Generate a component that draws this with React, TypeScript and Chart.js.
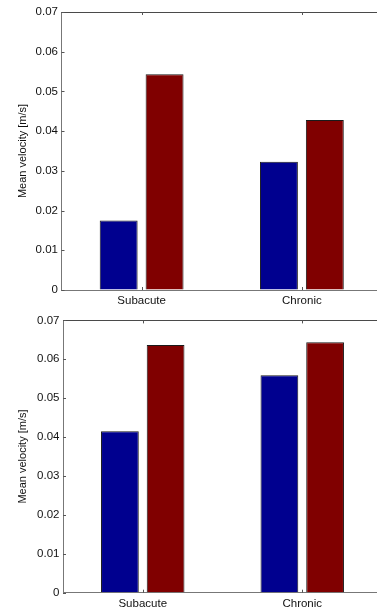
import React, { useEffect, useRef } from "react";
import { Chart, registerables } from "chart.js";

Chart.register(...registerables);

const categories = ["Subacute", "Chronic"];
const topBlue = [0.0175, 0.0323];
const topRed = [0.0543, 0.0428];
const bottomBlue = [0.0415, 0.0559];
const bottomRed = [0.0637, 0.0644];
const yTicks = [0, 0.01, 0.02, 0.03, 0.04, 0.05, 0.06, 0.07];
const yTitle = "Mean velocity [m/s]";

const FONT = "'Liberation Sans', Arial, sans-serif";
const BLUE = "#00008F";
const RED = "#800000";

const axisDecor = {
  id: "axisDecor",
  afterDraw(chart: any) {
    const { ctx, chartArea: a, scales } = chart;
    const x = scales.x;
    const y = scales.y;
    ctx.save();
    ctx.lineWidth = 1;
    ctx.strokeStyle = "#4a4a4a";
    ctx.beginPath();
    ctx.moveTo(a.left, Math.round(a.top) + 0.5);
    ctx.lineTo(a.right, Math.round(a.top) + 0.5);
    ctx.stroke();
    ctx.strokeStyle = "#555";
    y.ticks.forEach((_t: any, i: number) => {
      const py = Math.round(y.getPixelForTick(i)) + 0.5;
      ctx.beginPath();
      ctx.moveTo(a.left, py);
      ctx.lineTo(a.left + 3, py);
      ctx.stroke();
    });
    x.ticks.forEach((_t: any, i: number) => {
      const px = Math.round(x.getPixelForTick(i)) + 0.5;
      ctx.beginPath();
      ctx.moveTo(px, a.bottom);
      ctx.lineTo(px, a.bottom - 3);
      ctx.moveTo(px, a.top);
      ctx.lineTo(px, a.top + 3);
      ctx.stroke();
    });
    ctx.restore();
  },
};

type PanelProps = {
  blue: number[];
  red: number[];
  top: number;
  height: number;
  padTop: number;
  axisWidth: number;
  xHeight: number;
};

function Panel({ blue, red, top, height, padTop, axisWidth, xHeight }: PanelProps) {
  const ref = useRef<HTMLCanvasElement | null>(null);
  useEffect(() => {
    if (!ref.current) return;
    const chart = new Chart(ref.current, {
      type: "bar",
      data: {
        labels: categories,
        datasets: [
          {
            data: blue,
            backgroundColor: BLUE,
            borderColor: "#1a1a1a",
            borderWidth: 1,
            categoryPercentage: 0.573,
            barPercentage: 0.826,
          },
          {
            data: red,
            backgroundColor: RED,
            borderColor: "#1a1a1a",
            borderWidth: 1,
            categoryPercentage: 0.573,
            barPercentage: 0.826,
          },
        ],
      },
      options: {
        animation: false,
        responsive: false,
        maintainAspectRatio: false,
        layout: { padding: { top: padTop, right: 18, bottom: 0, left: 0 } },
        plugins: { legend: { display: false }, tooltip: { enabled: false } },
        scales: {
          x: {
            offset: true,
            grid: { display: true, drawOnChartArea: false, drawTicks: false },
            border: { display: true, color: "#777", width: 1 },
            ticks: {
              color: "#111",
              font: { family: FONT, size: 11.5 },
              padding: 4,
              maxRotation: 0,
            },
            afterFit: (s: any) => {
              s.height = xHeight;
            },
          },
          y: {
            min: 0,
            max: 0.07,
            afterBuildTicks: (s: any) => {
              s.ticks = yTicks.map((v) => ({ value: v }));
            },
            grid: { display: true, drawOnChartArea: false, drawTicks: false },
            border: { display: true, color: "#777", width: 1 },
            ticks: {
              color: "#111",
              font: { family: FONT, size: 11.5 },
              padding: 3.5,
              callback: (v: any) => (Number(v) === 0 ? "0" : Number(v).toFixed(2)),
            },
            title: {
              display: true,
              text: yTitle,
              color: "#111",
              font: { family: FONT, size: 11 },
              padding: { top: 16.4, bottom: 0 },
            },
            afterFit: (s: any) => {
              s.width = axisWidth;
            },
          },
        },
      },
      plugins: [axisDecor],
    });
    return () => chart.destroy();
  }, []);
  return (
    <canvas
      ref={ref}
      width={400}
      height={height}
      style={{ position: "absolute", left: 0, top, width: 400, height }}
    />
  );
}

export default function App() {
  return (
    <div
      style={{
        position: "fixed",
        left: 0,
        top: 0,
        width: 377,
        height: 609,
        overflow: "hidden",
        background: "#fff",
      }}
    >
      <Panel blue={topBlue} red={topRed} top={0} height={310} padTop={12} axisWidth={61.5} xHeight={20} />
      <Panel blue={bottomBlue} red={bottomRed} top={310} height={299} padTop={5.7} axisWidth={63} xHeight={16.3} />
    </div>
  );
}
